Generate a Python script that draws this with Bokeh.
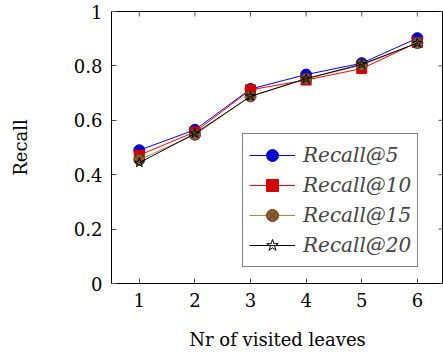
from bokeh.plotting import figure
from bokeh.models import Range1d, FixedTicker, Legend, LegendItem
from bokeh.embed import file_html
from bokeh.resources import INLINE
import math

visited = [1, 2, 3, 4, 5, 6]
recall5 = [0.49, 0.565, 0.715, 0.768, 0.81, 0.902]
recall10 = [0.472, 0.557, 0.712, 0.748, 0.79, 0.886]
recall15 = [0.455, 0.547, 0.688, 0.753, 0.803, 0.884]
recall20 = [0.444, 0.551, 0.688, 0.753, 0.806, 0.884]
labels = ["Recall@5", "Recall@10", "Recall@15", "Recall@20"]
y_ticks = [0, 0.2, 0.4, 0.6, 0.8, 1.0]
y_tick_labels = ["0", "0.2", "0.4", "0.6", "0.8", "1"]
x_title = "Nr of visited leaves"
y_title = "Recall"

FONT = "DejaVu Serif"
X0, X1, Y0, Y1 = 0.5, 6.47, 0, 1

p = figure(width=443, height=356, output_backend="svg", toolbar_location=None,
           x_range=Range1d(X0, X1), y_range=Range1d(Y0, Y1),
           min_border_left=111, min_border_right=0, min_border_top=11,
           min_border_bottom=73)
p.grid.visible = False
p.outline_line_color = "black"
p.outline_line_width = 1
p.background_fill_color = "white"
p.border_fill_color = "white"

for ax in p.xaxis:
    ax.ticker = FixedTicker(ticks=visited)
    ax.axis_label = x_title
for ax in p.yaxis:
    ax.ticker = FixedTicker(ticks=y_ticks)
    ax.major_label_overrides = {t: l for t, l in zip(y_ticks, y_tick_labels)}
    ax.axis_label = y_title
for ax in p.xaxis + p.yaxis:
    ax.axis_line_color = None
    ax.major_tick_in = 5
    ax.major_tick_out = 0
    ax.major_tick_line_color = "#555555"
    ax.minor_tick_line_color = None
    ax.major_label_text_font = FONT
    ax.major_label_text_font_size = "18px"
    ax.major_label_text_color = "black"
    ax.axis_label_text_font = FONT
    ax.axis_label_text_font_size = "18px"
    ax.axis_label_text_font_style = "normal"
    ax.axis_label_text_color = "black"
    ax.major_label_standoff = 9
p.xaxis.axis_label_standoff = 19
p.yaxis.axis_label_standoff = 40

# mirrored inward ticks on the top and right edges (clipped to the frame)
p.scatter(visited, [Y1] * len(visited), marker="dash", size=10, angle=math.pi / 2,
          line_color="#555555", line_width=1)
p.scatter([X1] * len(y_ticks), y_ticks, marker="dash", size=10,
          line_color="#555555", line_width=1)

series = [recall5, recall10, recall15, recall20]
line_colors = ["blue", "red", "#BF8040", "black"]
markers = ["circle", "square", "circle_x", "star"]
fills = ["#0000D0", "#D00000", "#8E5E2E", None]
mline = ["#0000D0", "#D00000", "#5E3A18", "black"]
sizes = [11, 10, 11, 10]

items = []
for s, lab, lc, mk, fc, ml, sz in zip(series, labels, line_colors, markers, fills, mline, sizes):
    r1 = p.line(visited, s, line_color=lc, line_width=1)
    r2 = p.scatter(visited, s, marker=mk, size=sz, fill_color=fc, line_color=ml,
                   line_width=1)
    items.append(LegendItem(label=lab, renderers=[r1, r2]))

legend = Legend(items=items, location=(131, 16), glyph_width=46, glyph_height=30,
                label_height=30, spacing=0, padding=6, margin=0,
                label_standoff=8, label_text_font=FONT,
                label_text_font_style="italic", label_text_font_size="20px",
                border_line_color="black", border_line_width=1,
                background_fill_color="white", background_fill_alpha=1)
p.add_layout(legend, "center")

open("out.html", "w").write(file_html(p, INLINE))
